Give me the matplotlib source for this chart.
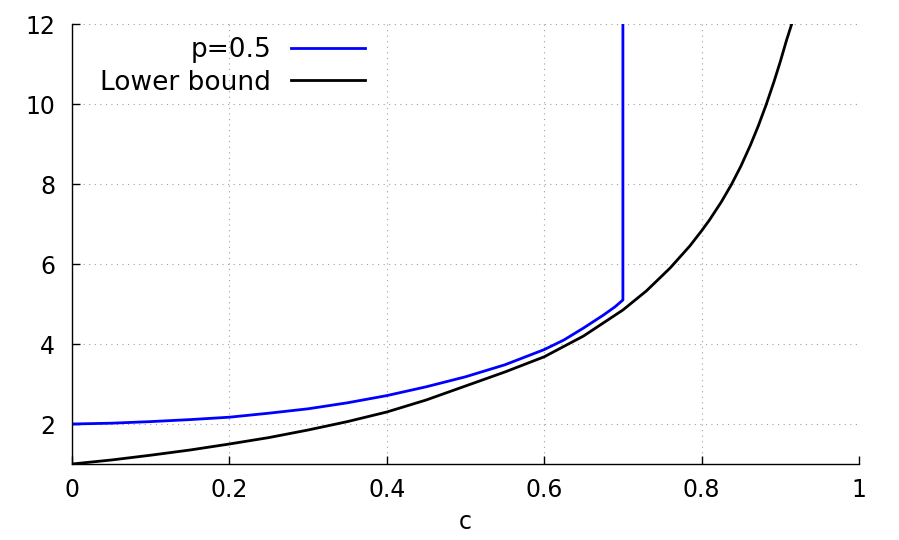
import matplotlib
matplotlib.use("Agg")
import matplotlib.pyplot as plt

# Data
c_lower = [0.0, 0.05, 0.1, 0.15, 0.2, 0.25, 0.3, 0.35, 0.4, 0.45, 0.5, 0.55, 0.6,
           0.65, 0.7, 0.73, 0.76, 0.785, 0.8, 0.81, 0.825, 0.838, 0.85, 0.862,
           0.872, 0.882, 0.892, 0.9, 0.908, 0.9145]
y_lower = [1.0, 1.1, 1.22, 1.35, 1.5, 1.66, 1.85, 2.06, 2.3, 2.6, 2.95, 3.3, 3.68,
           4.2, 4.85, 5.33, 5.9, 6.45, 6.83, 7.1, 7.55, 7.99, 8.45, 8.97,
           9.45, 9.98, 10.56, 11.06, 11.6, 12.0]

c_p05 = [0.0, 0.05, 0.1, 0.15, 0.2, 0.25, 0.3, 0.35, 0.4, 0.45, 0.5, 0.55, 0.6,
         0.625, 0.65, 0.675, 0.69, 0.7, 0.7]
y_p05 = [2.0, 2.02, 2.06, 2.11, 2.17, 2.27, 2.38, 2.53, 2.71, 2.93, 3.18, 3.48, 3.86,
         4.1, 4.4, 4.72, 4.93, 5.1, 12.0]

x_ticks = [0, 0.2, 0.4, 0.6, 0.8, 1]
x_tick_labels = ["0", "0.2", "0.4", "0.6", "0.8", "1"]
y_ticks = [2, 4, 6, 8, 10, 12]
y_tick_labels = ["2", "4", "6", "8", "10", "12"]

plt.rcParams['font.family'] = ['DejaVu Sans']
fs = 17
fs_leg = 19

fig = plt.figure(figsize=(8.99, 5.40), dpi=100)
ax = fig.add_axes([72/899, 76/540, (859-72)/899, (464-24)/540])

ax.plot(c_p05, y_p05, color='#0000ff', lw=2.0, label='p=0.5',
        solid_joinstyle='round')
ax.plot(c_lower, y_lower, color='black', lw=2.0, label='Lower bound',
        solid_joinstyle='round')

ax.set_xlim(0, 1)
ax.set_ylim(1, 12)
ax.set_xticks(x_ticks)
ax.set_xticklabels(x_tick_labels)
ax.set_yticks(y_ticks)
ax.set_yticklabels(y_tick_labels)
ax.tick_params(direction='in', length=6, width=1, labelsize=fs, pad=10)
ax.tick_params(axis='y', pad=12)
ax.spines['top'].set_visible(False)
ax.spines['right'].set_visible(False)
for s in ('left', 'bottom'):
    ax.spines[s].set_linewidth(1.0)
ax.grid(True, linestyle=(0, (1, 4)), color='#a0a0a0', lw=0.8)
ax.set_axisbelow(True)
ax.set_xlabel('c', fontsize=fs, labelpad=6)

leg = ax.legend(loc='upper right', bbox_to_anchor=(365/899, 1 - 37/540),
                bbox_transform=fig.transFigure, frameon=False, fontsize=fs_leg,
                markerfirst=False, handlelength=2.8, handletextpad=0.75,
                labelspacing=0.25, borderpad=0, borderaxespad=0)
for t in leg.get_texts():
    t.set_ha('right')

fig.savefig('out.png', dpi=100)
